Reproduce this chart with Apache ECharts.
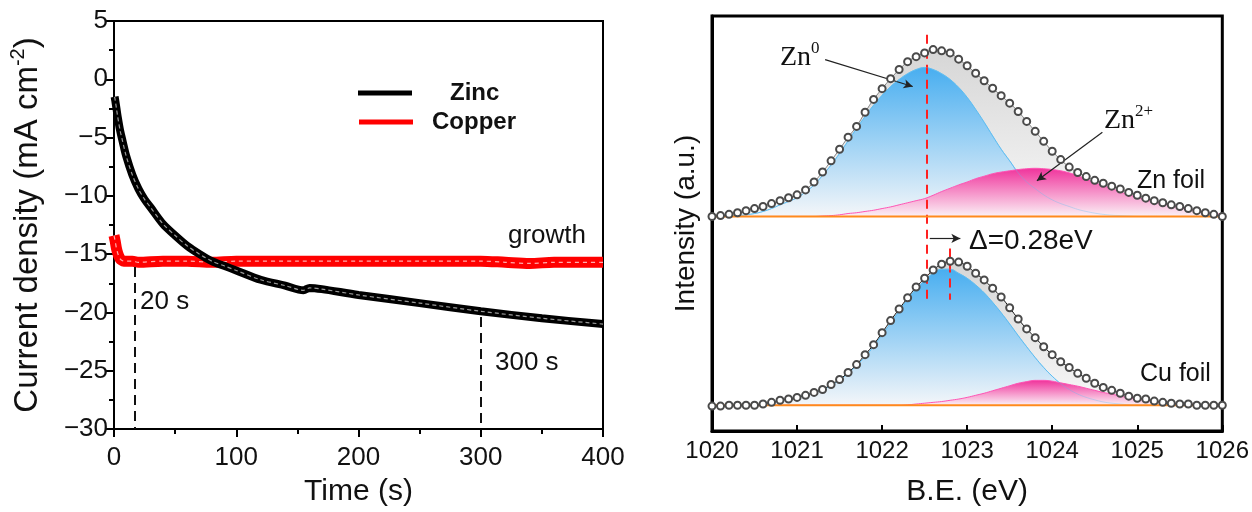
<!DOCTYPE html>
<html>
<head>
<meta charset="utf-8">
<script src="https://cdn.jsdelivr.net/npm/echarts@6/dist/echarts.min.js"></script>
<style>
html,body{margin:0;padding:0;background:#fff;}
#c{width:1252px;height:512px;}
</style>
</head>
<body>
<div id="c"></div>
<script>
// ---------- Left panel: chronoamperometry ----------
const tZinc = [0.5, 1, 2, 3, 5, 7, 10, 15, 20, 25, 30, 40, 50, 60, 70, 80, 90, 100, 120, 140, 155, 160, 170, 200, 250, 300, 350, 400];
const jZinc = [-1.5, -1.8, -2.5, -3.2, -4.4, -5.3, -6.6, -8.2, -9.4, -10.3, -11.0, -12.4, -13.4, -14.3, -15.0, -15.6, -16.0, -16.4, -17.2, -17.7, -18.1, -17.9, -18.0, -18.5, -19.2, -19.9, -20.5, -21.0];
const tCopper = [0, 1, 2, 3, 4, 5, 6, 8, 10, 15, 20, 40, 60, 80, 100, 150, 200, 250, 300, 320, 340, 360, 400];
const jCopper = [-13.4, -13.9, -14.5, -14.9, -15.2, -15.4, -15.5, -15.6, -15.6, -15.6, -15.7, -15.6, -15.6, -15.7, -15.6, -15.6, -15.6, -15.6, -15.6, -15.7, -15.8, -15.7, -15.7];
const timeMarks = [17, 300];          // dashed guide lines (s)
const timeMarkTop = [-16.1, -20.4];   // where each guide starts (current density)

// ---------- Right panel: XPS Zn 2p3/2 ----------
const beX = [1020.0,1020.1,1020.2,1020.3,1020.4,1020.5,1020.6,1020.7,1020.8,1020.9,
             1021.0,1021.1,1021.2,1021.3,1021.4,1021.5,1021.6,1021.7,1021.8,1021.9,
             1022.0,1022.1,1022.2,1022.3,1022.4,1022.5,1022.6,1022.7,1022.8,1022.9,
             1023.0,1023.1,1023.2,1023.3,1023.4,1023.5,1023.6,1023.7,1023.8,1023.9,
             1024.0,1024.1,1024.2,1024.3,1024.4,1024.5,1024.6,1024.7,1024.8,1024.9,
             1025.0,1025.1,1025.2,1025.3,1025.4,1025.5,1025.6,1025.7,1025.8,1025.9,
             1026.0];
// Zn foil
const znEnv = [51.7,51.9,52.2,52.6,53.1,53.6,54.1,54.8,55.5,56.2,
               56.9,58.1,60.0,62.4,65.1,67.9,70.8,73.4,76.8,79.9,
               82.5,84.9,87.1,89.0,90.2,91.1,91.9,91.6,91.1,89.6,
               88.0,86.2,84.4,82.6,80.8,79.0,77.0,74.6,72.2,69.8,
               67.4,65.4,63.6,62.3,61.3,60.4,59.7,59.0,58.3,57.5,
               56.8,56.1,55.5,55.0,54.5,54.1,53.6,53.1,52.6,52.2,
               51.7];
const znZn0 = [51.7,51.7,51.8,51.9,52.1,52.4,52.9,53.6,54.5,55.3,
               56.2,57.6,59.3,61.6,64.1,66.9,69.9,72.9,75.8,78.5,
               80.9,83.0,84.7,86.1,87.1,87.6,87.1,86.1,84.7,82.8,
               80.4,77.5,74.4,71.1,67.9,65.1,62.2,60.0,58.4,56.9,
               55.7,54.8,54.1,53.4,52.9,52.5,52.2,52.0,51.9,51.8,
               51.7,51.7,51.7,51.7,51.7,51.7,51.7,51.7,51.7,51.7,
               51.7];
const znZn2 = [51.7,51.7,51.7,51.7,51.7,51.7,51.7,51.7,51.7,51.7,
               51.7,51.7,51.7,51.8,51.9,52.1,52.4,52.6,52.9,53.2,
               53.6,54.0,54.5,55.0,55.5,56.0,56.8,57.7,58.5,59.3,
               60.0,60.8,61.4,62.0,62.4,62.7,63.0,63.2,63.3,63.2,
               63.0,62.7,62.2,61.5,60.7,59.8,59.1,58.4,57.6,56.9,
               56.3,55.7,55.2,54.8,54.3,53.8,53.4,53.1,52.8,52.4,
               52.2];
// Cu foil
const cuEnv = [6.0,6.0,6.2,6.2,6.2,6.2,6.5,6.9,7.4,7.7,
               8.1,8.6,9.3,10.0,11.2,12.4,14.1,16.0,18.4,20.8,
               23.7,26.6,29.4,32.1,34.7,36.8,38.8,40.2,40.9,40.7,
               39.7,38.0,36.4,34.4,32.3,29.7,27.0,24.6,22.5,20.3,
               18.4,16.7,15.3,13.9,12.7,11.5,10.5,9.8,9.1,8.4,
               7.9,7.7,7.2,6.9,6.7,6.5,6.5,6.2,6.2,6.2,
               6.2];
const cuZn0 = [6.2,6.2,6.2,6.2,6.2,6.3,6.5,6.9,7.4,7.7,
               8.1,8.6,9.3,10.0,11.0,12.3,13.9,15.8,17.9,20.4,
               23.2,26.0,28.9,31.7,34.2,36.3,38.0,39.0,39.0,38.0,
               36.8,35.2,33.3,31.0,28.5,25.8,23.0,20.3,17.7,15.3,
               13.2,11.4,10.0,8.9,8.1,7.5,7.0,6.7,6.5,6.3,
               6.2,6.2,6.2,6.2,6.2,6.2,6.2,6.2,6.2,6.2,
               6.2];
const cuZn2 = [6.2,6.2,6.2,6.2,6.2,6.2,6.2,6.2,6.2,6.2,
               6.2,6.2,6.2,6.2,6.2,6.2,6.2,6.2,6.2,6.2,
               6.2,6.2,6.2,6.3,6.5,6.7,6.9,7.1,7.4,7.7,
               8.1,8.6,9.1,9.7,10.3,10.9,11.5,11.9,12.2,12.2,
               12.0,11.6,11.2,10.8,10.3,9.8,9.3,8.9,8.4,8.0,
               7.7,7.4,7.2,6.9,6.7,6.6,6.5,6.4,6.2,6.2,
               6.2];
const baseX = [1020.0, 1026.0];
const znBase = [51.7, 51.7];
const cuBase = [6.2, 6.2];
const peakZn = 1022.52, peakCu = 1022.80;   // binding energies marked by red dashes

// ---------- helpers ----------
const pairs = (xs, ys) => xs.map((x, i) => [x, ys[i]]);
const FONT = 'Liberation Sans, Arial, sans-serif';
const SERIF = 'Liberation Serif, Times New Roman, serif';
const grad = (c1, c2) => new echarts.graphic.LinearGradient(0, 0, 0, 1, [{offset: 0, color: c1}, {offset: 1, color: c2}]);
const noLabel = {show: false};

function area(ys, origin, lineColor, g, z) {
  return {
    type: 'line', xAxisIndex: 1, yAxisIndex: 1, data: pairs(beX, ys),
    smooth: 0.4, showSymbol: false, symbol: 'none', z: z, silent: true,
    lineStyle: {color: lineColor, width: lineColor === 'none' ? 0 : 1},
    areaStyle: {color: g, origin: origin, opacity: 1}
  };
}

const chart = echarts.init(document.getElementById('c'), null, {renderer: 'canvas'});

const option = {
  animation: false,
  backgroundColor: '#fff',
  grid: [
    {left: 114, right: 649, top: 21, bottom: 78, show: true, borderColor: '#000', borderWidth: 2, backgroundColor: 'transparent'},
    {left: 712, right: 29, top: 16, bottom: 78, show: true, borderColor: '#000', borderWidth: 3, backgroundColor: 'transparent'}
  ],
  legend: [
    {data: [{name: 'Zinc', icon: 'rect'}], left: 353, top: 76, itemWidth: 54, itemHeight: 5,
     selectedMode: false,
     textStyle: {fontSize: 24, fontWeight: 'bold', fontFamily: FONT, color: '#111', padding: [4, 0, 0, 33]}},
    {data: [{name: 'Copper', icon: 'rect'}], left: 354, top: 105, itemWidth: 54, itemHeight: 5,
     selectedMode: false,
     textStyle: {fontSize: 24, fontWeight: 'bold', fontFamily: FONT, color: '#111', padding: [10, 0, 0, 14]}}
  ],
  xAxis: [
    {type: 'value', gridIndex: 0, min: 0, max: 400, interval: 100,
     name: 'Time (s)', nameLocation: 'middle', nameGap: 48,
     nameTextStyle: {fontSize: 30, fontFamily: FONT, color: '#111'},
     axisLine: {show: true, onZero: false, lineStyle: {color: '#000', width: 2}},
     axisTick: {show: true, inside: false, length: 8, lineStyle: {color: '#000', width: 2}},
     minorTick: {show: true, splitNumber: 2, length: 5, lineStyle: {color: '#000', width: 2}},
     axisLabel: {fontSize: 26, fontFamily: FONT, color: '#111', margin: 16},
     splitLine: {show: false}},
    {type: 'value', gridIndex: 1, min: 1020, max: 1026, interval: 1,
     name: 'B.E. (eV)', nameLocation: 'middle', nameGap: 46,
     nameTextStyle: {fontSize: 30, fontFamily: FONT, color: '#111'},
     axisLine: {show: true, onZero: false, lineStyle: {color: '#000', width: 3}},
     axisTick: {show: true, inside: true, length: 6, lineStyle: {color: '#000', width: 2}},
     axisLabel: {fontSize: 24, fontFamily: FONT, color: '#111', margin: 8, formatter: v => String(v)},
     splitLine: {show: false}}
  ],
  yAxis: [
    {type: 'value', gridIndex: 0, min: -30, max: 5, interval: 5,
     name: '{a|Current density (mA cm}{s|-2}{a|)}', nameLocation: 'middle', nameGap: 66, nameRotate: 90,
     nameTextStyle: {fontFamily: FONT, color: '#111',
       rich: {a: {fontSize: 33, fontFamily: FONT, color: '#111', lineHeight: 40},
              s: {fontSize: 20, fontFamily: FONT, color: '#111', verticalAlign: 'top', lineHeight: 30}}},
     axisLine: {show: true, onZero: false, lineStyle: {color: '#000', width: 2}},
     axisTick: {show: true, inside: false, length: 8, lineStyle: {color: '#000', width: 2}},
     minorTick: {show: true, splitNumber: 2, length: 5, lineStyle: {color: '#000', width: 2}},
     axisLabel: {fontSize: 26, fontFamily: FONT, color: '#111', margin: 6,
                 formatter: v => String(v).replace('-', '\u2212')},
     splitLine: {show: false}},
    {type: 'value', gridIndex: 1, min: 0, max: 100,
     name: 'Intensity (a.u.)', nameLocation: 'middle', nameGap: 12, nameRotate: 90,
     nameTextStyle: {fontSize: 28, fontFamily: FONT, color: '#111'},
     axisLine: {show: true, onZero: false, lineStyle: {color: '#000', width: 3}},
     axisTick: {show: false}, axisLabel: {show: false}, splitLine: {show: false}}
  ],
  series: [
    // ----- left panel -----
    {type: 'line', name: 'Copper', xAxisIndex: 0, yAxisIndex: 0, data: pairs(tCopper, jCopper),
     showSymbol: false, symbol: 'none', smooth: 0.3, z: 3,
     itemStyle: {color: '#ff0000'}, lineStyle: {color: '#ff0000', width: 11}},
    {type: 'line', xAxisIndex: 0, yAxisIndex: 0, data: pairs(tCopper, jCopper),
     showSymbol: false, symbol: 'none', smooth: 0.3, z: 4, silent: true,
     lineStyle: {color: 'rgba(255,190,190,0.9)', width: 1.2, type: [4, 4]}},
    {type: 'line', name: 'Zinc', xAxisIndex: 0, yAxisIndex: 0, data: pairs(tZinc, jZinc),
     showSymbol: false, symbol: 'none', smooth: 0.3, z: 5,
     itemStyle: {color: '#000'}, lineStyle: {color: '#000', width: 8},
     markLine: {silent: true, symbol: ['none', 'none'], label: noLabel,
       lineStyle: {color: '#111', width: 2, type: [10, 6]},
       data: timeMarks.map((t, i) => [{coord: [t, timeMarkTop[i]]}, {coord: [t, -30]}])}},
    {type: 'line', xAxisIndex: 0, yAxisIndex: 0, data: pairs(tZinc, jZinc),
     showSymbol: false, symbol: 'none', smooth: 0.3, z: 6, silent: true,
     lineStyle: {color: 'rgba(170,170,170,0.9)', width: 1.2, type: [4, 3]}},

    // ----- right panel: Zn foil -----
    area(znEnv, znBase[0], 'none', grad('#d6d6d6', '#f8f8f8'), 2),
    area(znZn0, znBase[0], '#5cbcf2', grad('#48aef0', '#f4f6f9'), 3),
    area(znZn2, znBase[0], '#ff55b5', grad('#f0349c', '#fbf1f6'), 4),
    {type: 'line', xAxisIndex: 1, yAxisIndex: 1, data: pairs(beX, znZn0), smooth: 0.4, symbol: 'none', z: 5, silent: true,
     lineStyle: {color: 'rgba(92,188,242,0.35)', width: 1}},
    {type: 'line', xAxisIndex: 1, yAxisIndex: 1, data: pairs(baseX, znBase), symbol: 'none', z: 6, silent: true,
     lineStyle: {color: '#ff8a1c', width: 2}},
    {type: 'line', xAxisIndex: 1, yAxisIndex: 1, data: pairs(beX, znEnv), smooth: 0.4, z: 7, silent: true,
     symbol: 'emptyCircle', symbolSize: 7, showSymbol: true, showAllSymbol: true,
     itemStyle: {color: '#4a4a4a', borderColor: '#4a4a4a', borderWidth: 1.3},
     lineStyle: {color: '#666', width: 0.8},
     markLine: {silent: true, symbol: ['none', 'none'], label: noLabel,
       lineStyle: {color: '#ff2020', width: 2, type: [9, 6]},
       data: [[{coord: [peakZn, 95.5]}, {coord: [peakZn, 31.6]}],
              [{coord: [peakCu, 44.0]}, {coord: [peakCu, 31.6]}]]}},

    // ----- right panel: Cu foil -----
    area(cuEnv, cuBase[0], 'none', grad('#d6d6d6', '#f8f8f8'), 2),
    area(cuZn0, cuBase[0], '#5cbcf2', grad('#48aef0', '#f4f6f9'), 3),
    area(cuZn2, cuBase[0], '#ff55b5', grad('#f0349c', '#fbf1f6'), 4),
    {type: 'line', xAxisIndex: 1, yAxisIndex: 1, data: pairs(beX, cuZn0), smooth: 0.4, symbol: 'none', z: 5, silent: true,
     lineStyle: {color: 'rgba(92,188,242,0.35)', width: 1}},
    {type: 'line', xAxisIndex: 1, yAxisIndex: 1, data: pairs(baseX, cuBase), symbol: 'none', z: 6, silent: true,
     lineStyle: {color: '#ff8a1c', width: 2}},
    {type: 'line', xAxisIndex: 1, yAxisIndex: 1, data: pairs(beX, cuEnv), smooth: 0.4, z: 7, silent: true,
     symbol: 'emptyCircle', symbolSize: 7, showSymbol: true, showAllSymbol: true,
     itemStyle: {color: '#4a4a4a', borderColor: '#4a4a4a', borderWidth: 1.3},
     lineStyle: {color: '#111', width: 1},
     markLine: {silent: true, symbol: ['none', 'arrow'], symbolSize: [7, 9], label: noLabel,
       lineStyle: {color: '#222', width: 1.2, type: 'solid'},
       data: [[{coord: [1021.33, 89.5]}, {coord: [1022.36, 83.0]}],
              [{coord: [1024.59, 72.0]}, {coord: [1023.82, 60.3]}],
              [{coord: [1022.56, 46.4]}, {coord: [1022.92, 46.4]}]]}}
  ],
  graphic: [
    {type: 'text', x: 140, y: 302, style: {text: '20 s', fontSize: 26, fontFamily: FONT, fill: '#111', verticalAlign: 'middle'}},
    {type: 'text', x: 495, y: 363, style: {text: '300 s', fontSize: 26, fontFamily: FONT, fill: '#111', verticalAlign: 'middle'}},
    {type: 'text', x: 508, y: 236, style: {text: 'growth', fontSize: 26, fontFamily: FONT, fill: '#111', verticalAlign: 'middle'}},
    {type: 'text', x: 780, y: 40, z: 100, style: {text: '{a|Zn}{b|0}', fill: '#111',
       rich: {a: {fontSize: 28, fontFamily: SERIF, fill: '#111', lineHeight: 32, verticalAlign: 'bottom'},
              b: {fontSize: 17, fontFamily: SERIF, fill: '#111', lineHeight: 32, verticalAlign: 'top'}}}},
    {type: 'text', x: 1104, y: 103, z: 100, style: {text: '{a|Zn}{b|2+}', fill: '#111',
       rich: {a: {fontSize: 28, fontFamily: SERIF, fill: '#111', lineHeight: 32, verticalAlign: 'bottom'},
              b: {fontSize: 17, fontFamily: SERIF, fill: '#111', lineHeight: 32, verticalAlign: 'top'}}}},
    {type: 'text', x: 1137, y: 181, z: 100, style: {text: 'Zn foil', fontSize: 25, fontFamily: FONT, fill: '#111', verticalAlign: 'middle'}},
    {type: 'text', x: 1140, y: 374, z: 100, style: {text: 'Cu foil', fontSize: 25, fontFamily: FONT, fill: '#111', verticalAlign: 'middle'}},
    {type: 'text', x: 969, y: 241, z: 100, style: {text: '\u0394=0.28eV', fontSize: 28, fontFamily: FONT, fill: '#111', verticalAlign: 'middle'}}
  ]
};
chart.setOption(option);
</script>
</body>
</html>
